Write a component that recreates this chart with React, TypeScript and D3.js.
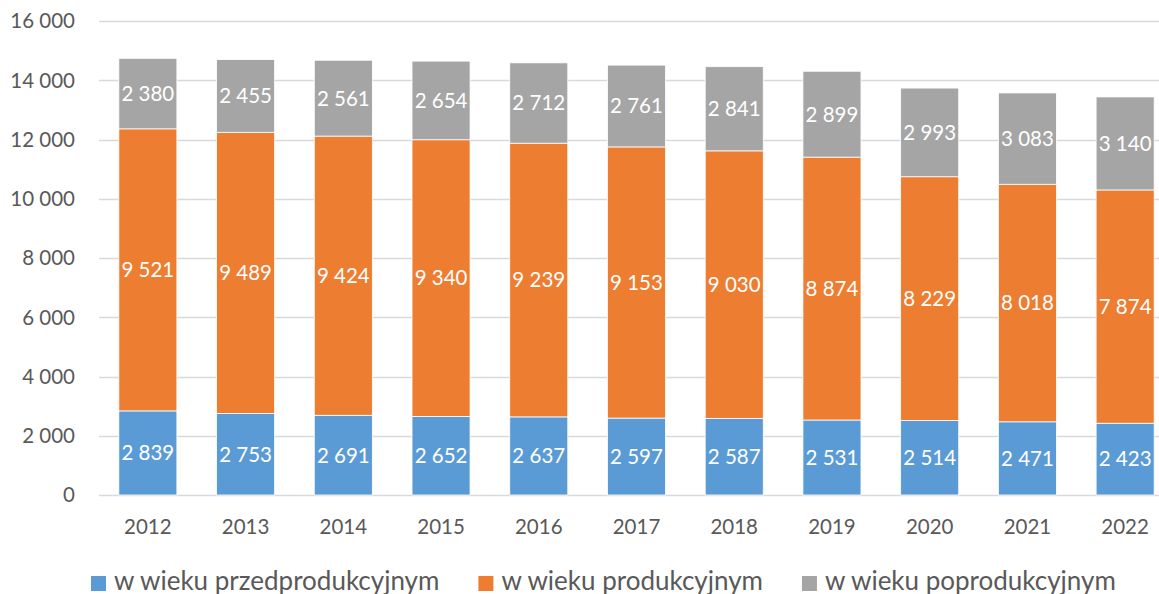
import React, { useEffect, useRef } from 'react';
import * as d3 from 'd3';

const width = 1159, height = 594;
const margin = { left: 99, top: 21, bottom: 99 };
const plotRight = 1174;

const years = ['2012', '2013', '2014', '2015', '2016', '2017', '2018', '2019', '2020', '2021', '2022'];
const przed = [2839, 2753, 2691, 2652, 2637, 2597, 2587, 2531, 2514, 2471, 2423];
const prod = [9521, 9489, 9424, 9340, 9239, 9153, 9030, 8874, 8229, 8018, 7874];
const poprod = [2380, 2455, 2561, 2654, 2712, 2761, 2841, 2899, 2993, 3083, 3140];
const seriesNames = ['w wieku przedprodukcyjnym', 'w wieku produkcyjnym', 'w wieku poprodukcyjnym'];
const yTicks = [0, 2000, 4000, 6000, 8000, 10000, 12000, 14000, 16000];

const colors = ['#5B9BD5', '#ED7D31', '#A5A5A5'];
const font = 'Lato, "Open Sans", sans-serif';

const locale = d3.formatLocale({ decimal: ',', thousands: ' ', grouping: [3], currency: ['', ''] });
const fmt = locale.format(',');

function App() {
    const ref = useRef<SVGSVGElement>(null);

    useEffect(() => {
        document.body.style.margin = '0';
        const svg = d3.select(ref.current);
        svg.selectAll('*').remove();

        const x = d3.scaleBand()
            .domain(years)
            .range([margin.left, plotRight])
            .paddingInner(0.406)
            .paddingOuter(0.203);

        const y = d3.scaleLinear()
            .domain([0, 16000])
            .range([height - margin.bottom, margin.top]);

        // grid
        svg.append('g')
            .selectAll('line')
            .data(yTicks)
            .enter()
            .append('line')
            .attr('x1', margin.left)
            .attr('x2', plotRight)
            .attr('y1', d => Math.round(y(d)) + 0.5)
            .attr('y2', d => Math.round(y(d)) + 0.5)
            .attr('stroke', '#D9D9D9')
            .attr('stroke-width', 1.3);

        // y labels
        svg.append('g')
            .selectAll('text')
            .data(yTicks)
            .enter()
            .append('text')
            .attr('x', 75)
            .attr('y', d => y(d))
            .attr('dy', '0.36em')
            .attr('text-anchor', 'end')
            .attr('font-family', font)
            .attr('font-size', 20.5)
            .attr('fill', '#595959')
            .text(d => fmt(d));

        // x labels
        svg.append('g')
            .selectAll('text')
            .data(years)
            .enter()
            .append('text')
            .attr('x', d => x(d)! + x.bandwidth() / 2)
            .attr('y', 534)
            .attr('text-anchor', 'middle')
            .attr('font-family', font)
            .attr('font-size', 20.5)
            .attr('fill', '#595959')
            .text(d => d);

        const rows = years.map((yr, i) => ({ year: yr, przed: przed[i], prod: prod[i], poprod: poprod[i] }));
        const keys = ['przed', 'prod', 'poprod'];
        const stacked = d3.stack<any>().keys(keys)(rows);

        stacked.forEach((layer, li) => {
            const g = svg.append('g');
            g.selectAll('rect')
                .data(layer)
                .enter()
                .append('rect')
                .attr('x', d => x(d.data.year)!)
                .attr('width', x.bandwidth())
                .attr('y', d => y(d[1]))
                .attr('height', d => y(d[0]) - y(d[1]))
                .attr('fill', colors[li])
                .attr('stroke', '#ffffff')
                .attr('stroke-width', 0.8);

            g.selectAll('text')
                .data(layer)
                .enter()
                .append('text')
                .attr('x', d => x(d.data.year)! + x.bandwidth() / 2)
                .attr('y', d => (y(d[0]) + y(d[1])) / 2)
                .attr('dy', '0.36em')
                .attr('text-anchor', 'middle')
                .attr('font-family', font)
                .attr('font-size', 20.5)
                .attr('fill', '#ffffff')
                .text(d => fmt(d[1] - d[0]));
        });

        // legend
        const legend = svg.append('g');
        let lx = 91;
        seriesNames.forEach((name, i) => {
            legend.append('rect')
                .attr('x', lx)
                .attr('y', 576)
                .attr('width', 15)
                .attr('height', 15)
                .attr('fill', colors[i]);
            const t = legend.append('text')
                .attr('x', lx + 23)
                .attr('y', 590)
                .attr('font-family', font)
                .attr('font-size', 26)
                .attr('fill', '#595959')
                .text(name);
            const w = (t.node() as SVGTextElement).getComputedTextLength();
            lx = lx + 23 + w + 39;
        });
    }, []);

    return <svg ref={ref} width={width} height={height} style={{ display: 'block' }}></svg>;
}

export default App;
